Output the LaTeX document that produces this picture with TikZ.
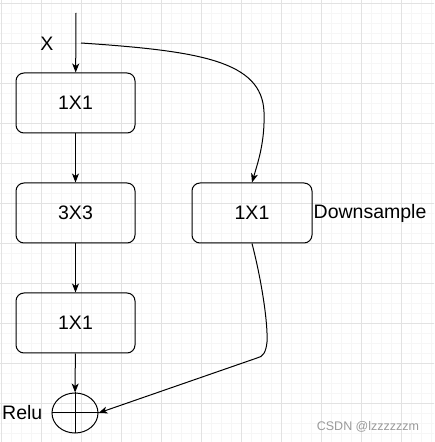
\documentclass[tikz,border=0pt]{standalone}
\usepackage{fontspec}
\setmainfont{Liberation Sans}
\usetikzlibrary{arrows.meta,shapes.geometric}
\definecolor{gridminor}{HTML}{F6F6F6}
\definecolor{gridmajor}{HTML}{E2E2E2}
\definecolor{markgray}{HTML}{9A9A9A}
\tikzset{
    block/.style={draw, line width=1pt, rounded corners=8pt, minimum width=119pt, minimum height=60pt, font=\fontsize{19.5}{21}\selectfont},
    lbl/.style={inner sep=0pt, font=\fontsize{19.5}{21}\selectfont},
    link/.style={line width=1pt, -{Stealth[length=9pt,width=7pt,inset=2.5pt]}}
}
\begin{document}
\begin{tikzpicture}[x=1pt,y=1pt]
        \useasboundingbox (0,0) rectangle (434,442);
        \clip (0,0) rectangle (434,442);
        \begin{scope}[shift={(1,-1.3)}]
            \draw[gridminor, line width=0.8pt, step=10pt] (-10,-10) grid (440,450);
            \draw[gridmajor, line width=1pt, step=40pt] (-40,-40) grid (440,480);
        \end{scope}
        \coordinate (in) at (76,429);
        \coordinate (split) at (81,399);
        \coordinate (bend) at (257,84);
        \node[lbl] (X) at (47,398) {X};
        \node[block] (C1) at (75.5,339) {1X1};
        \node[block] (C3) at (75.5,229) {3X3};
        \node[block] (C5) at (75.5,119) {1X1};
        \node[block, minimum width=120pt] (D) at (252,229) {1X1};
        \node[lbl, anchor=west] (DL) at (313.5,229) {Downsample};
        \node[draw, line width=1pt, ellipse, minimum width=46pt, minimum height=40pt, inner sep=0pt] (S) at (75,29) {};
        \node[lbl, anchor=east] (R) at (42.5,29) {Relu};
        \node[markgray, inner sep=0pt, font=\fontsize{12.5}{14}\selectfont] (W) at (368,15) {CSDN @lzzzzzzm};
        \draw[line width=1pt] (S.west) -- (S.east);
        \draw[line width=1pt] (S.north) -- (S.south);
        \draw[link] (in) to (C1);
        \draw[link] (C1) to (C3);
        \draw[link] (C3) to (C5);
        \draw[link] (C5) to (S);
        \draw[link] (split) .. controls (200,391) and (262,381) .. (264,330) .. controls (265,300) and (258,280) .. (D.north);
        \draw[line width=1pt] (D.south) .. controls (262,160) and (268,118) .. (267,100) .. controls (266,90) and (263,85) .. (bend);
        \draw[link] (bend) to (S.east);
    \end{tikzpicture}
\end{document}
